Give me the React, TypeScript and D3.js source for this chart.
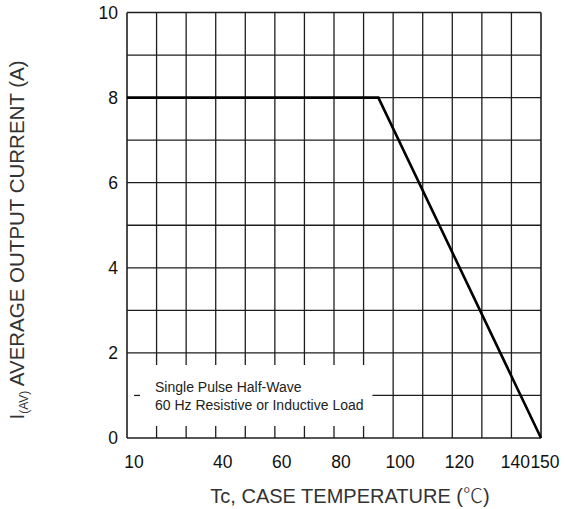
import { useEffect, useRef } from "react";
import * as d3 from "d3";

// derating curve: Tc (°C) vs I(AV) (A)
const curveTemp = [10, 95, 150];
const curveCurrent = [8, 8, 0];

const xGrid = [10, 20, 30, 40, 50, 60, 70, 80, 90, 100, 110, 120, 130, 140, 150];
const yGrid = [0, 1, 2, 3, 4, 5, 6, 7, 8, 9, 10];
const xTickLabels = [10, 40, 60, 80, 100, 120, 140, 150];
const yTickLabels = [0, 2, 4, 6, 8, 10];
const noteLines = ["Single Pulse Half-Wave", "60 Hz Resistive or Inductive Load"];

const W = 565, H = 509;
const margin = { top: 12.5, right: 24, bottom: 71, left: 127 };

export default function App() {
  const ref = useRef<SVGSVGElement>(null);

  useEffect(() => {
    const svg = d3.select(ref.current);
    svg.selectAll("*").remove();

    const x = d3.scaleLinear().domain([10, 150]).range([margin.left, W - margin.right]);
    const y = d3.scaleLinear().domain([0, 10]).range([H - margin.bottom, margin.top]);
    const font = "'Liberation Sans', Arial, sans-serif";
    const gridColor = "#1e1e1e";

    const g = svg.append("g");

    // vertical grid; lines left of 95 are cut in the note box (0..2 A)
    xGrid.forEach((t) => {
      if (t > 10 && t < 100) {
        g.append("line")
          .attr("x1", x(t)).attr("x2", x(t))
          .attr("y1", y(10)).attr("y2", y(2) + 12)
          .attr("stroke", gridColor).attr("stroke-width", 1.3);
        g.append("line")
          .attr("x1", x(t)).attr("x2", x(t))
          .attr("y1", y(0)).attr("y2", y(0) - 12)
          .attr("stroke", gridColor).attr("stroke-width", 1.3);
      } else {
        g.append("line")
          .attr("x1", x(t)).attr("x2", x(t))
          .attr("y1", y(10)).attr("y2", y(0))
          .attr("stroke", gridColor).attr("stroke-width", t === 10 || t === 150 ? 1.6 : 1.3);
      }
    });

    // horizontal grid
    yGrid.forEach((v) => {
      const x1 = v === 1 ? x(93) : x(10);
      g.append("line")
        .attr("x1", x1).attr("x2", x(150))
        .attr("y1", y(v)).attr("y2", y(v))
        .attr("stroke", gridColor).attr("stroke-width", v === 0 || v === 10 ? 1.6 : 1.3);
    });
    // small dash at 1 A near the axis
    g.append("line")
      .attr("x1", x(10) + 7).attr("x2", x(10) + 13)
      .attr("y1", y(1)).attr("y2", y(1))
      .attr("stroke", gridColor).attr("stroke-width", 1.3);

    // curve
    const pts: [number, number][] = curveTemp.map((t, i) => [t, curveCurrent[i]]);
    g.append("path")
      .datum(pts)
      .attr("fill", "none")
      .attr("stroke", "#000")
      .attr("stroke-width", 2.6)
      .attr("stroke-linejoin", "miter")
      .attr("d", d3.line<[number, number]>().x((d) => x(d[0])).y((d) => y(d[1])));

    // note
    noteLines.forEach((s, i) => {
      g.append("text")
        .attr("x", x(10) + 28)
        .attr("y", y(1) - 3 + i * 18)
        .attr("font-family", font)
        .attr("font-size", 14)
        .attr("fill", "#222")
        .text(s);
    });

    // tick labels
    xTickLabels.forEach((t) => {
      g.append("text")
        .attr("x", x(t) + (t >= 140 ? 4 : 7))
        .attr("y", y(0) + 30)
        .attr("text-anchor", "middle")
        .attr("font-family", font)
        .attr("font-size", 17.5)
        .attr("fill", "#111")
        .text(t);
    });
    yTickLabels.forEach((v) => {
      g.append("text")
        .attr("x", x(10) - 9)
        .attr("y", y(v) + 6)
        .attr("text-anchor", "end")
        .attr("font-family", font)
        .attr("font-size", 17.5)
        .attr("fill", "#111")
        .text(v);
    });

    // axis titles
    const xt = g.append("text")
      .attr("x", 350)
      .attr("y", 503)
      .attr("text-anchor", "middle")
      .attr("font-family", font)
      .attr("font-size", 20)
      .attr("fill", "#333");
    xt.append("tspan").text("Tc, CASE TEMPERATURE (");
    xt.append("tspan").attr("font-family", "'Noto Sans CJK SC', sans-serif").attr("font-weight", 300).text("℃");
    xt.append("tspan").text(")");

    const yt = g.append("text")
      .attr("transform", "translate(24,240) rotate(-90)")
      .attr("text-anchor", "middle")
      .attr("font-family", font)
      .attr("font-size", 20.5)
      .attr("fill", "#333");
    yt.append("tspan").text("I");
    yt.append("tspan").attr("font-size", 12).attr("dy", 4).text("(AV)");
    yt.append("tspan").attr("dy", -4).text(" AVERAGE OUTPUT CURRENT (A)");
  }, []);

  return (
    <svg
      ref={ref}
      width={W}
      height={H}
      style={{ position: "absolute", left: 0, top: 0, background: "#fff" }}
    />
  );
}
